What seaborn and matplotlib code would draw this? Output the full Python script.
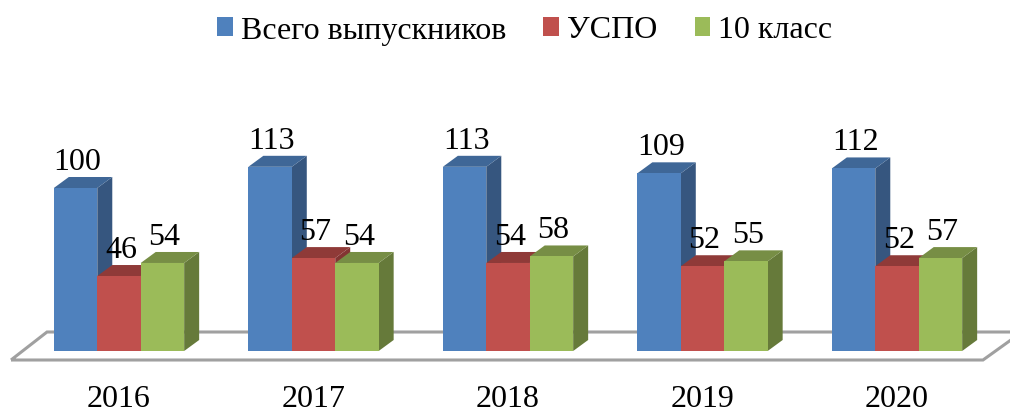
import pandas as pd
import matplotlib.pyplot as plt
from matplotlib.patches import Polygon
import seaborn as sns

years = ["2016", "2017", "2018", "2019", "2020"]
total = [100, 113, 113, 109, 112]
uspo = [46, 57, 54, 52, 52]
tenth = [54, 54, 58, 55, 57]
series_names = ["Всего выпускников", "УСПО", "10 класс"]

front_colors = ["#4F81BD", "#C0504D", "#9BBB59"]
top_colors = ["#3F6797", "#8F3A38", "#778E45"]
side_colors = ["#36567F", "#833533", "#667A3A"]

W, H = 1010, 410
BASE_Y = 352          # pixel row of the bars' feet
PX_PER_UNIT = 1.63    # pixels per graduate
FIRST_X, STEP_X = 119, 194.5  # pixel centre of 2016 and category spacing
DEPTH_X, DEPTH_Y = 15, 11     # pseudo-3d depth in pixels
FONT_SIZE = 23

df = pd.DataFrame({
    "year": years * 3,
    "series": [s for s in series_names for _ in years],
    "value": total + uspo + tenth,
})

sns.set_theme(style="white")
plt.rcParams["font.family"] = ["Liberation Serif", "DejaVu Serif"]

fig = plt.figure(figsize=(W / 100, H / 100), dpi=100)
ax = fig.add_axes([0, (H - BASE_Y) / H, 1, BASE_Y / H])

sns.barplot(data=df, x="year", y="value", hue="series", hue_order=series_names,
            palette=front_colors, width=0.67, gap=0, saturation=1, linewidth=0, ax=ax)

ax.set_xlim(-FIRST_X / STEP_X, (W - FIRST_X) / STEP_X)
ax.set_ylim(0, BASE_Y / PX_PER_UNIT)
sx = 1 / STEP_X
sy = 1 / PX_PER_UNIT


def to_data(px, py):
    return (px - FIRST_X) * sx, (BASE_Y - py) * sy


# floor of the 3d chart
floor = [to_data(11, 361), to_data(47, 333), to_data(1022, 333), to_data(983, 361)]
ax.add_patch(Polygon(floor, closed=True, fill=False, edgecolor="#A0A0A0", linewidth=2.2,
                     clip_on=False, zorder=1))

# side and top faces built from each bar
for i, container in enumerate(ax.containers):
    for bar, val in zip(container, container.datavalues):
        x0, x1 = bar.get_x(), bar.get_x() + bar.get_width()
        h = bar.get_height()
        dx, dy = DEPTH_X * sx, DEPTH_Y * sy
        z = 3 + i * 2
        side = [(x1, 0), (x1 + dx, dy), (x1 + dx, h + dy), (x1, h)]
        top = [(x0, h), (x0 + dx, h + dy), (x1 + dx, h + dy), (x1, h)]
        ax.add_patch(Polygon(side, closed=True, fc=side_colors[i], ec="none", zorder=z))
        ax.add_patch(Polygon(top, closed=True, fc=top_colors[i], ec="none", zorder=z))
        bar.set_zorder(z + 1)
        ax.annotate(str(int(val)), ((x0 + x1) / 2, h), xytext=(2, 19), textcoords="offset pixels",
                    ha="center", va="baseline", fontsize=FONT_SIZE, color="black", zorder=20)

ax.set_xlabel("")
ax.set_ylabel("")
ax.set_yticks([])
ax.tick_params(axis="x", length=0, pad=24, labelsize=FONT_SIZE, labelcolor="black")
sns.despine(ax=ax, left=True, bottom=True, top=True, right=True)

sns.move_legend(ax, "center", bbox_to_anchor=(525 / W, (H - 31) / H),
                bbox_transform=fig.transFigure, ncols=3, frameon=False, title=None,
                fontsize=FONT_SIZE, handlelength=0.5, handleheight=0.55,
                handletextpad=0.25, columnspacing=1.15, borderpad=0, labelcolor="black")

fig.savefig("out.png", dpi=100)
